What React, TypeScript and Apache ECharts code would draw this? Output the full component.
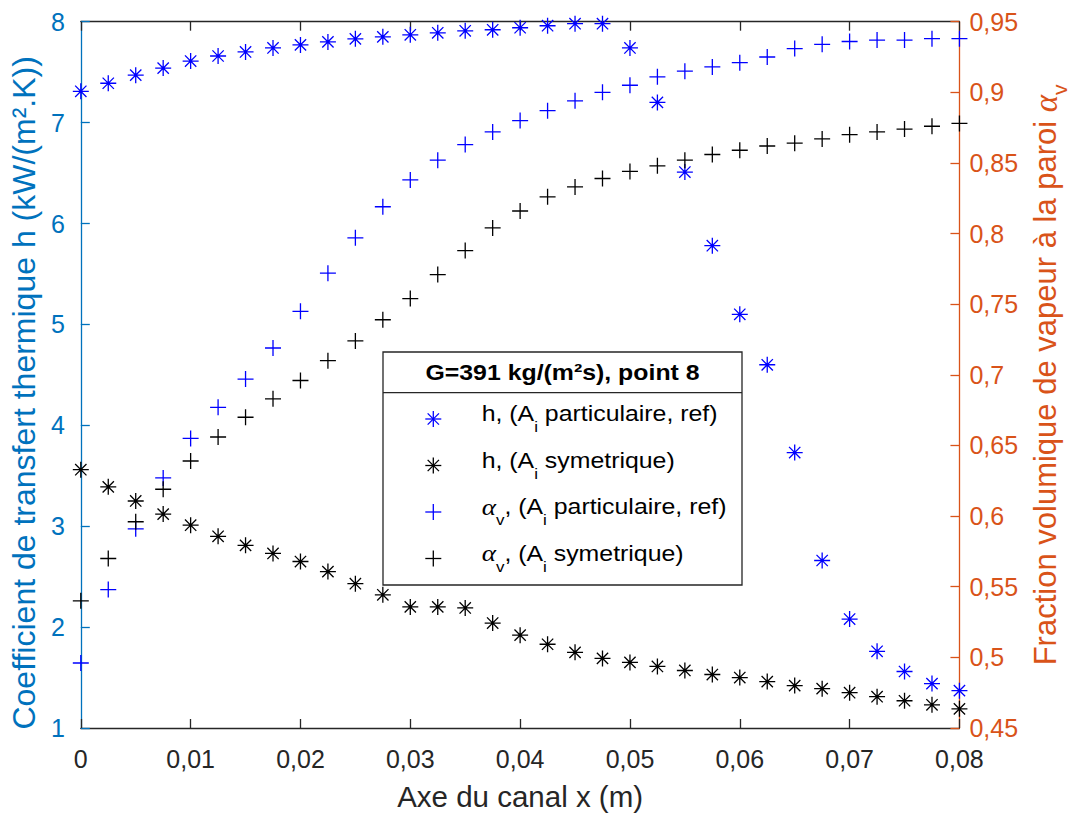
import React, { useEffect, useRef } from 'react';
import * as echarts from 'echarts';

// Axial positions along the channel (m)
const xPositions = [
  0, 0.0025, 0.005, 0.0075, 0.01, 0.0125, 0.015, 0.0175, 0.02, 0.0225, 0.025,
  0.0275, 0.03, 0.0325, 0.035, 0.0375, 0.04, 0.0425, 0.045, 0.0475, 0.05,
  0.0525, 0.055, 0.0575, 0.06, 0.0625, 0.065, 0.0675, 0.07, 0.0725, 0.075,
  0.0775, 0.08,
];

// h (kW/(m².K)), A_i particulaire (ref)
const hParticulaire = [
  7.31, 7.39, 7.47, 7.54, 7.61, 7.66, 7.7, 7.74, 7.77, 7.8, 7.83, 7.85, 7.87,
  7.89, 7.91, 7.92, 7.94, 7.96, 7.98, 7.98, 7.74, 7.2, 6.51, 5.78, 5.1, 4.6,
  3.73, 2.66, 2.08, 1.76, 1.56, 1.44, 1.37,
];

// h (kW/(m².K)), A_i symetrique
const hSymetrique = [
  3.56, 3.39, 3.25, 3.12, 3.01, 2.9, 2.81, 2.73, 2.65, 2.55, 2.43, 2.32, 2.2,
  2.2, 2.19, 2.04, 1.92, 1.83, 1.75, 1.69, 1.65, 1.61, 1.57, 1.53, 1.5, 1.46,
  1.42, 1.39, 1.35, 1.31, 1.27, 1.23, 1.19,
];

// alpha_v, A_i particulaire (ref)
const alphaParticulaire = [
  0.496, 0.548, 0.591, 0.627, 0.655, 0.677, 0.697, 0.719, 0.745, 0.772, 0.797,
  0.819, 0.838, 0.852, 0.863, 0.872, 0.88, 0.887, 0.894, 0.9, 0.905, 0.911,
  0.915, 0.918, 0.921, 0.925, 0.931, 0.934, 0.936, 0.937, 0.937, 0.938, 0.938,
];

// alpha_v, A_i symetrique
const alphaSymetrique = [
  0.54, 0.57, 0.596, 0.619, 0.639, 0.656, 0.67, 0.683, 0.696, 0.71, 0.724,
  0.739, 0.754, 0.771, 0.788, 0.804, 0.816, 0.826, 0.833, 0.839, 0.844, 0.848,
  0.852, 0.856, 0.859, 0.862, 0.864, 0.867, 0.87, 0.872, 0.874, 0.876, 0.878,
];

const legendTitle = 'G=391 kg/(m²s), point 8';
const xAxisTitle = 'Axe du canal x (m)';
const leftAxisTitle = 'Coefficient de transfert thermique h (kW/(m².K))';
const rightAxisTitle = 'Fraction volumique de vapeur à la paroi {a|α}{s|v}';

const FONT = '"Liberation Sans", Arial, Helvetica, sans-serif';
const SERIF = '"Liberation Serif", "DejaVu Serif", serif';
const BLUE = '#0000FF';
const BLACK = '#000000';
const AXIS_DARK = '#262626';
const LEFT_COLOR = '#0072BD';
const RIGHT_COLOR = '#D95319';

const ASTERISK =
  'path://M0 -10 L0 10 M-10 0 L10 0 M-7.07 -7.07 L7.07 7.07 M-7.07 7.07 L7.07 -7.07';
const PLUS = 'path://M0 -10 L0 10 M-10 0 L10 0';

const commaFmt = (v: number) =>
  String(parseFloat(v.toFixed(4))).replace('.', ',');

function legendMarker(kind: 'ast' | 'plus', cx: number, cy: number, color: string) {
  const r = 8;
  const d = 5.66;
  const segs: number[][] = [
    [0, -r, 0, r],
    [-r, 0, r, 0],
  ];
  if (kind === 'ast') {
    segs.push([-d, -d, d, d], [-d, d, d, -d]);
  }
  return segs.map(([x1, y1, x2, y2]) => ({
    type: 'line',
    shape: { x1: cx + x1, y1: cy + y1, x2: cx + x2, y2: cy + y2 },
    style: { stroke: color, lineWidth: 1.3 },
  }));
}

const legendRich = {
  n: { fontSize: 22, fontFamily: FONT, fill: '#000', color: '#000', verticalAlign: 'middle' },
  s: { fontSize: 15, fontFamily: FONT, fill: '#000', color: '#000', verticalAlign: 'middle', padding: [26, 0, 0, 0] },
  a: { fontSize: 24, fontFamily: SERIF, fontStyle: 'italic', fill: '#000', color: '#000', verticalAlign: 'middle' },
};

export default function App() {
  const ref = useRef<HTMLDivElement>(null);

  useEffect(() => {
    if (!ref.current) return;
    const chart = echarts.init(ref.current, undefined, { renderer: 'svg' });

    const mk = (ys: number[]) => xPositions.map((x, i) => [x, ys[i]]);

    const boxL = 383;
    const boxT = 352;
    const boxW = 359;
    const boxH = 233;
    const sepY = 392.7;
    const markerX = 433.3;
    const textX = 481.7;
    const rowYs = [419, 465.5, 512, 558.5];
    const entries: { kind: 'ast' | 'plus'; color: string; text: string }[] = [
      { kind: 'ast', color: BLUE, text: '{n|h, (A}{s|i}{n| particulaire, ref)}' },
      { kind: 'ast', color: BLACK, text: '{n|h, (A}{s|i}{n| symetrique)}' },
      { kind: 'plus', color: BLUE, text: '{a|α}{s|v}{n|, (A}{s|i}{n| particulaire, ref)}' },
      { kind: 'plus', color: BLACK, text: '{a|α}{s|v}{n|, (A}{s|i}{n| symetrique)}' },
    ];

    const legendChildren: any[] = [
      {
        type: 'rect',
        shape: { x: boxL, y: boxT, width: boxW, height: boxH },
        style: { fill: '#ffffff', stroke: AXIS_DARK, lineWidth: 1.3 },
      },
      {
        type: 'line',
        shape: { x1: boxL, y1: sepY, x2: boxL + boxW, y2: sepY },
        style: { stroke: AXIS_DARK, lineWidth: 1.3 },
      },
      {
        type: 'text',
        x: boxL + boxW / 2,
        y: 373,
        scaleX: 1.13,
        style: {
          text: legendTitle,
          fontSize: 22,
          fontWeight: 'bold',
          fontFamily: FONT,
          fill: '#000',
          align: 'center',
          verticalAlign: 'middle',
        },
      },
    ];
    entries.forEach((e, i) => {
      legendChildren.push(...legendMarker(e.kind, markerX, rowYs[i], e.color));
      legendChildren.push({
        type: 'text',
        x: textX,
        y: rowYs[i] - 5,
        scaleX: 1.13,
        style: {
          text: e.text,
          rich: legendRich,
          fontSize: 22,
          fontFamily: FONT,
          fill: '#000',
          align: 'left',
          verticalAlign: 'middle',
        },
      });
    });

    const scatter = (name: string, data: number[][], symbol: string, color: string, yAxisIndex: number) => ({
      name,
      type: 'scatter',
      xAxisIndex: 0,
      yAxisIndex,
      data,
      symbol,
      symbolSize: 16,
      symbolKeepAspect: true,
      itemStyle: { color: 'none', borderColor: color, borderWidth: 1.3, opacity: 1 },
      emphasis: { disabled: true },
      z: 3,
    });

    const option: any = {
      animation: false,
      backgroundColor: '#ffffff',
      textStyle: { fontFamily: FONT },
      grid: { left: 76.7, right: 118, top: 21.7, bottom: 83.7, containLabel: false },
      xAxis: [
        {
          type: 'value',
          position: 'bottom',
          min: 0,
          max: 0.08,
          interval: 0.01,
          axisLine: { show: true, onZero: false, lineStyle: { color: AXIS_DARK, width: 1.3 } },
          axisTick: { show: true, inside: true, length: 9, lineStyle: { color: AXIS_DARK, width: 1.3 } },
          axisLabel: { formatter: commaFmt, color: AXIS_DARK, fontSize: 25, fontFamily: FONT, margin: 18 },
          splitLine: { show: false },
          name: xAxisTitle,
          nameLocation: 'middle',
          nameGap: 53,
          nameTextStyle: { fontSize: 29.5, color: AXIS_DARK, fontFamily: FONT },
        },
        {
          type: 'value',
          position: 'top',
          min: 0,
          max: 0.08,
          interval: 0.01,
          axisLine: { show: true, onZero: false, lineStyle: { color: AXIS_DARK, width: 1.3 } },
          axisTick: { show: true, inside: true, length: 9, lineStyle: { color: AXIS_DARK, width: 1.3 } },
          axisLabel: { show: false },
          splitLine: { show: false },
        },
      ],
      yAxis: [
        {
          type: 'value',
          position: 'left',
          min: 1,
          max: 8,
          interval: 1,
          axisLine: { show: true, onZero: false, lineStyle: { color: LEFT_COLOR, width: 1.3 } },
          axisTick: { show: true, inside: true, length: 9, lineStyle: { color: LEFT_COLOR, width: 1.3 } },
          axisLabel: { color: LEFT_COLOR, fontSize: 25, fontFamily: FONT, margin: 16 },
          splitLine: { show: false },
          name: leftAxisTitle,
          nameLocation: 'middle',
          nameRotate: 90,
          nameGap: 35,
          nameTextStyle: { fontSize: 32, color: LEFT_COLOR, fontFamily: FONT, padding: [0, 36, 0, 0] },
        },
        {
          type: 'value',
          position: 'right',
          min: 0.45,
          max: 0.95,
          interval: 0.05,
          axisLine: { show: true, onZero: false, lineStyle: { color: RIGHT_COLOR, width: 1.3 } },
          axisTick: { show: true, inside: true, length: 9, lineStyle: { color: RIGHT_COLOR, width: 1.3 } },
          axisLabel: { formatter: commaFmt, color: RIGHT_COLOR, fontSize: 25, fontFamily: FONT, margin: 10 },
          splitLine: { show: false },
          name: rightAxisTitle,
          nameLocation: 'middle',
          nameRotate: 90,
          nameGap: 69,
          nameTextStyle: {
            fontSize: 31,
            color: RIGHT_COLOR,
            fontFamily: FONT,
            verticalAlign: 'middle',
            rich: {
              a: { fontSize: 33, fontFamily: SERIF, fontStyle: 'italic', color: RIGHT_COLOR, verticalAlign: 'middle' },
              s: { fontSize: 21, fontFamily: FONT, color: RIGHT_COLOR, verticalAlign: 'middle', padding: [28, 0, 0, 0] },
            },
          },
        },
      ],
      series: [
        scatter('h, (Ai particulaire, ref)', mk(hParticulaire), ASTERISK, BLUE, 0),
        scatter('h, (Ai symetrique)', mk(hSymetrique), ASTERISK, BLACK, 0),
        scatter('αv, (Ai particulaire, ref)', mk(alphaParticulaire), PLUS, BLUE, 1),
        scatter('αv, (Ai symetrique)', mk(alphaSymetrique), PLUS, BLACK, 1),
      ],
      graphic: [{ type: 'group', z: 100, children: legendChildren }],
    };

    chart.setOption(option);
    return () => chart.dispose();
  }, []);

  return (
    <div
      ref={ref}
      style={{ position: 'absolute', left: 0, top: 0, width: 1078, height: 816, background: '#fff' }}
    />
  );
}
